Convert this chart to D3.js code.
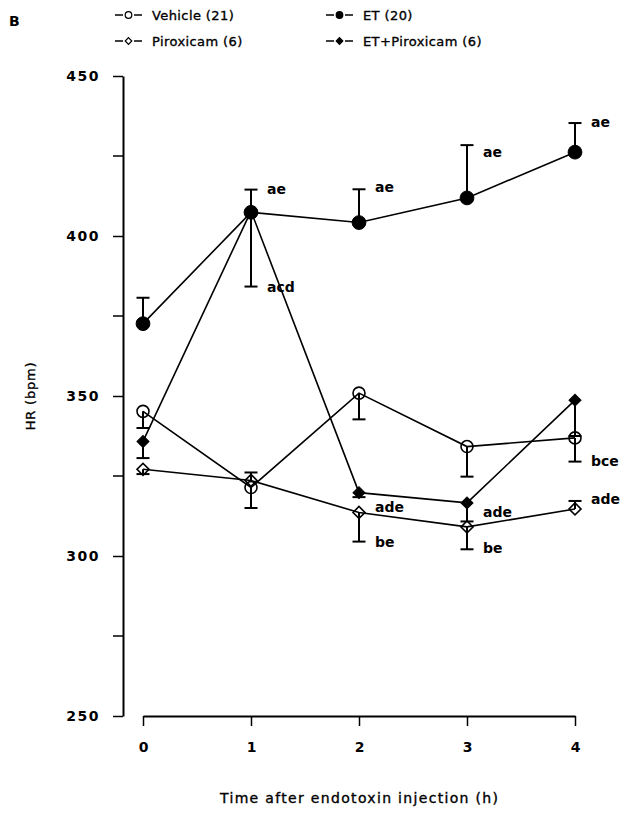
<!DOCTYPE html>
<html>
<head>
<meta charset="utf-8">
<script src="https://cdn.jsdelivr.net/npm/d3@7"></script>
<style>
  body { margin: 0; background: #fff; }
  svg { display: block; font-family: "DejaVu Sans", sans-serif; }
  .medium { stroke: #000; stroke-width: 0.35px; }
</style>
</head>
<body>
<div id="chart"></div>
<script>
// hours after injection
const hours = [0, 1, 2, 3, 4];

// group means (bpm) and the end of each error bar
const vehicle = [345.2, 321.4, 350.9, 334.2, 336.9];
const vehicleErr = [340.0, 315.0, 342.7, 324.8, 329.5];
const et = [372.6, 407.4, 404.2, 411.9, 426.2];
const etErr = [380.7, 414.5, 414.6, 428.4, 435.3];
const piroxicam = [327.1, 323.6, 313.6, 309.1, 314.7];
const piroxicamErr = [325.6, 326.1, 304.5, 302.1, 317.2];
const etPiroxicam = [335.8, 407.8, 319.8, 316.6, 348.7];
const etPiroxicamErr = [330.6, 384.2, 318.4, 310.8, 337.5];

const seriesNames = ["Vehicle (21)", "ET (20)", "Piroxicam (6)", "ET+Piroxicam (6)"];

// significance letters next to the error bars
const annotHours = [1, 1, 2, 3, 4, 2, 2, 3, 3, 4, 4];
const annotText = ["ae", "acd", "ae", "ae", "ae", "ade", "be", "ade", "be", "bce", "ade"];
const annotValue = [414.7, 384.0, 415.3, 426.3, 435.6, 315.4, 304.5, 313.8, 302.5, 329.7, 317.8];

const yTicks = [250, 300, 350, 400, 450];
const yMinorTicks = [275, 325, 375, 425];

function drawChart(id) {
  const w = 629;
  const h = 813;

  const svg = d3
    .select(`#${id}`)
    .append("svg")
    .attr("width", w)
    .attr("height", h);

  const x = d3.scaleLinear().domain([0, 4]).range([143, 575]);
  const y = d3.scaleLinear().domain([250, 450]).range([716, 76]);

  // series setup
  const series = [
    { name: seriesNames[0], values: vehicle, err: vehicleErr, shape: "circle", filled: false },
    { name: seriesNames[1], values: et, err: etErr, shape: "circle", filled: true },
    { name: seriesNames[2], values: piroxicam, err: piroxicamErr, shape: "diamond", filled: false },
    { name: seriesNames[3], values: etPiroxicam, err: etPiroxicamErr, shape: "diamond", filled: true },
  ];

  function markerPath(shape, scale) {
    if (shape === "circle") return d3.symbol(d3.symbolCircle, Math.PI * 36 * scale * scale)();
    return d3.symbol(d3.symbolSquare, 72 * scale * scale)();
  }

  // y axis
  const yAxis = svg.append("g").attr("transform", "translate(123,0)");
  yAxis
    .call(d3.axisLeft(y).tickValues(yTicks).tickSize(10).tickSizeOuter(0).tickFormat(d3.format("d")))
    .call((g) => g.select(".domain").attr("stroke-width", 2))
    .call((g) => g.selectAll(".tick line").attr("stroke-width", 1.5))
    .call((g) =>
      g.selectAll(".tick text")
        .attr("x", -23)
        .attr("font-size", 14)
        .attr("font-weight", "bold")
        .attr("letter-spacing", 1.5)
        .attr("font-family", "DejaVu Sans, sans-serif")
    );
  yAxis
    .selectAll(".minor")
    .data(yMinorTicks)
    .enter()
    .append("line")
    .attr("x1", -10)
    .attr("x2", 0)
    .attr("y1", (d) => y(d))
    .attr("y2", (d) => y(d))
    .attr("stroke", "#000")
    .attr("stroke-width", 1.5);

  // x axis
  svg
    .append("g")
    .attr("transform", "translate(0,716)")
    .call(d3.axisBottom(x).tickValues(hours).tickSize(10).tickSizeOuter(0).tickFormat(d3.format("d")))
    .call((g) => g.select(".domain").attr("stroke-width", 2))
    .call((g) => g.selectAll(".tick line").attr("stroke-width", 1.5))
    .call((g) =>
      g.selectAll(".tick text")
        .attr("y", 26)
        .attr("font-size", 14)
        .attr("font-weight", "bold")
        .attr("font-family", "DejaVu Sans, sans-serif")
    );

  // axis titles
  svg
    .append("text")
    .attr("class", "medium")
    .attr("x", 359)
    .attr("y", 803)
    .attr("text-anchor", "middle")
    .attr("font-size", 14)
    .attr("textLength", 278)
    .attr("lengthAdjust", "spacing")
    .text("Time after endotoxin injection (h)");

  svg
    .append("text")
    .attr("class", "medium")
    .attr("transform", "translate(35,396) rotate(-90)")
    .attr("text-anchor", "middle")
    .attr("font-size", 13)
    .attr("letter-spacing", 0.8)
    .text("HR (bpm)");

  svg
    .append("text")
    .attr("x", 9)
    .attr("y", 26)
    .attr("font-size", 14)
    .attr("font-weight", "bold")
    .text("B");

  const line = d3
    .line()
    .x((d, i) => x(hours[i]))
    .y((d) => y(d));

  // connecting lines
  svg
    .append("g")
    .selectAll("path")
    .data(series)
    .enter()
    .append("path")
    .attr("d", (s) => line(s.values))
    .attr("fill", "none")
    .attr("stroke", "#000")
    .attr("stroke-width", 1.6);

  // error bars with caps
  series.forEach((s) => {
    const g = svg.append("g");
    g.selectAll("line.bar")
      .data(s.values)
      .enter()
      .append("line")
      .attr("x1", (d, i) => x(hours[i]))
      .attr("x2", (d, i) => x(hours[i]))
      .attr("y1", (d) => y(d))
      .attr("y2", (d, i) => y(s.err[i]))
      .attr("stroke", "#000")
      .attr("stroke-width", 2);
    g.selectAll("line.cap")
      .data(s.err)
      .enter()
      .append("line")
      .attr("x1", (d, i) => x(hours[i]) - 6.5)
      .attr("x2", (d, i) => x(hours[i]) + 6.5)
      .attr("y1", (d) => y(d))
      .attr("y2", (d) => y(d))
      .attr("stroke", "#000")
      .attr("stroke-width", 2);
  });

  // markers
  series.forEach((s) => {
    svg
      .append("g")
      .selectAll("path")
      .data(s.values)
      .enter()
      .append("path")
      .attr("d", markerPath(s.shape, s.filled && s.shape === "circle" ? 1.15 : 1))
      .attr("transform", (d, i) =>
        `translate(${x(hours[i])},${y(d)})` + (s.shape === "diamond" ? " rotate(45)" : "")
      )
      .attr("fill", s.filled ? "#000" : "none")
      .attr("stroke", "#000")
      .attr("stroke-width", s.filled ? 1 : 1.6);
  });

  // significance letters
  svg
    .append("g")
    .selectAll("text")
    .data(annotText)
    .enter()
    .append("text")
    .attr("x", (d, i) => x(annotHours[i]) + 16)
    .attr("y", (d, i) => y(annotValue[i]))
    .attr("dy", "0.35em")
    .attr("font-size", 14)
    .attr("font-weight", "bold")
    .text((d) => d);

  // legend
  const legendPos = [
    [115, 15],
    [326, 15],
    [115, 41],
    [326, 41],
  ];
  const legend = svg
    .append("g")
    .selectAll("g")
    .data(series)
    .enter()
    .append("g")
    .attr("transform", (d, i) => `translate(${legendPos[i][0]},${legendPos[i][1]})`);
  legend
    .append("line")
    .attr("x1", 0)
    .attr("x2", 8)
    .attr("stroke", "#000")
    .attr("stroke-width", 1.5);
  legend
    .append("line")
    .attr("x1", 19)
    .attr("x2", 27)
    .attr("stroke", "#000")
    .attr("stroke-width", 1.5);
  legend
    .append("path")
    .attr("d", (s) => markerPath(s.shape, 0.55))
    .attr("transform", (s) => "translate(13.5,0)" + (s.shape === "diamond" ? " rotate(45)" : ""))
    .attr("fill", (s) => (s.filled ? "#000" : "none"))
    .attr("stroke", "#000")
    .attr("stroke-width", 1.2);
  legend
    .append("text")
    .attr("class", "medium")
    .attr("x", 37)
    .attr("dy", "0.35em")
    .attr("font-size", 13)
    .attr("letter-spacing", 0.4)
    .text((s) => s.name);
}

document.addEventListener("DOMContentLoaded", function () {
  drawChart("chart");
});
</script>
</body>
</html>
